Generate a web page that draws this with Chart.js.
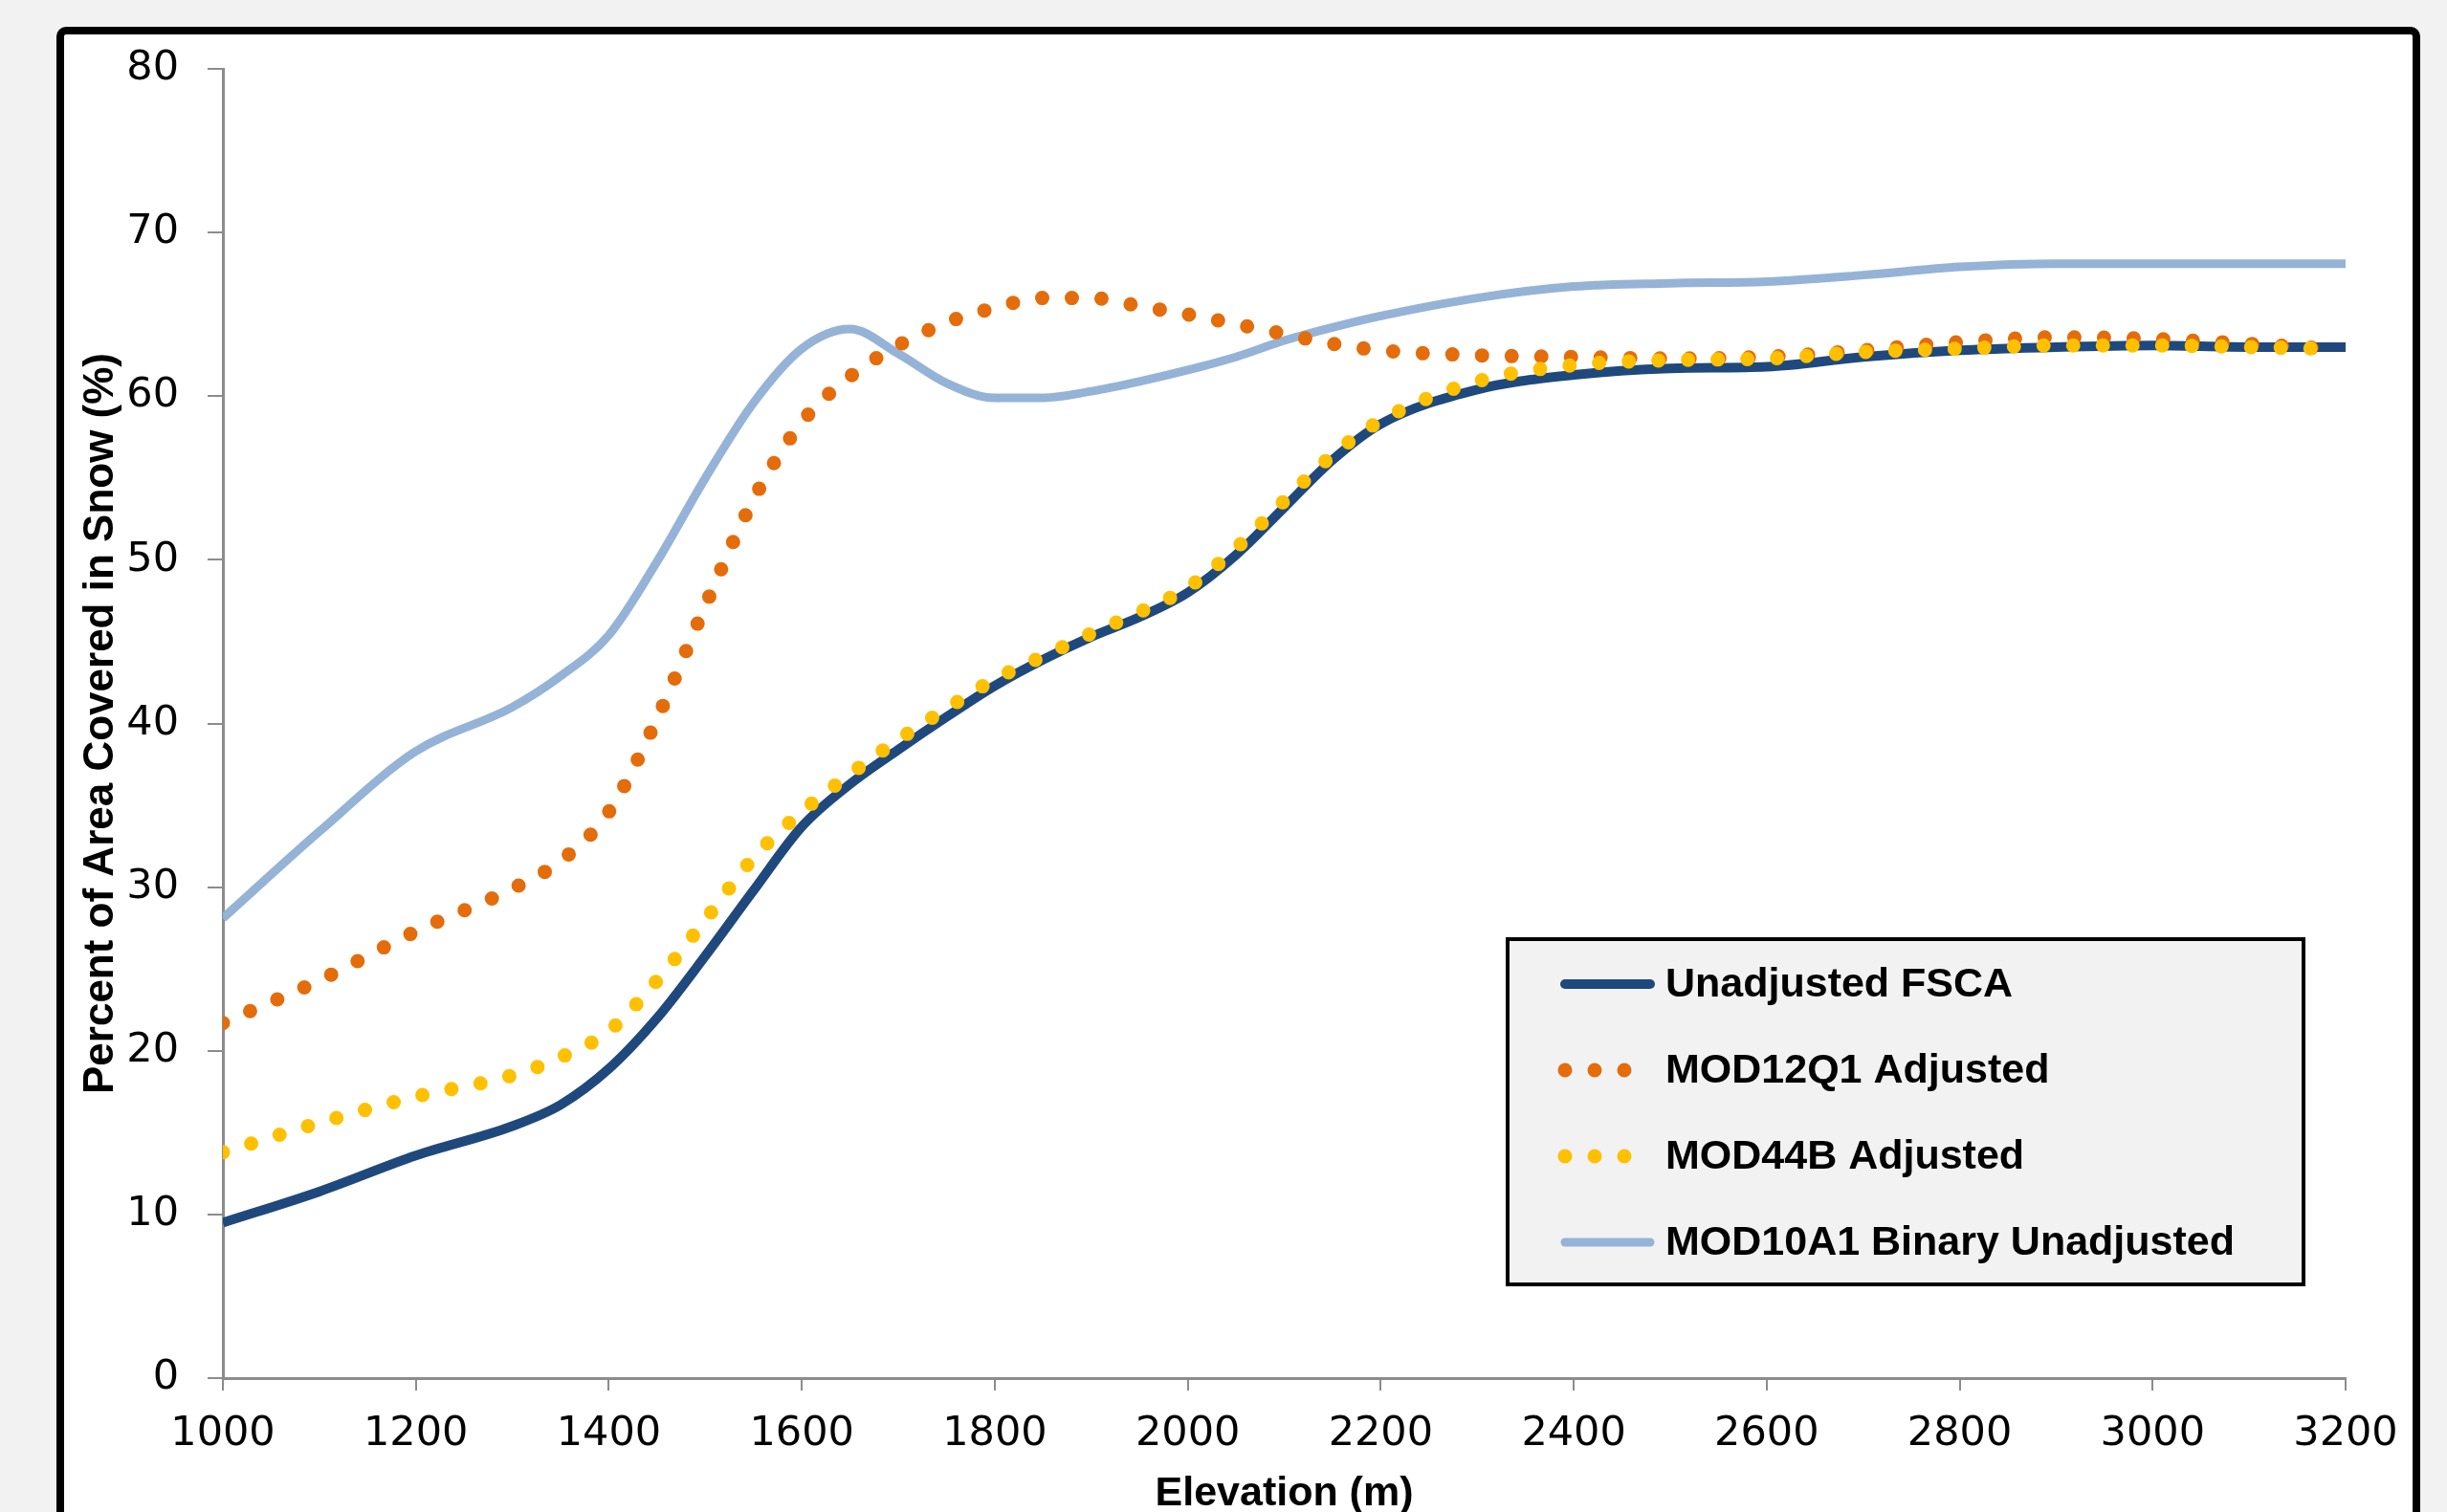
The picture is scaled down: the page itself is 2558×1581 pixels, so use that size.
<!DOCTYPE html>
<html>
<head>
<meta charset="utf-8">
<title>Percent of Area Covered in Snow by Elevation</title>
<script src="https://cdn.jsdelivr.net/npm/chart.js@4.4.0/dist/chart.umd.min.js"></script>
<style>
    html, body { margin: 0; padding: 0; background: #f2f2f2; overflow: hidden; }
    canvas { display: block; }
</style>
</head>
<body>
<canvas id="myChart" width="2558" height="1581"></canvas>
<script>
// DATA
const elevation = [1000, 1100, 1200, 1300, 1350, 1400, 1450, 1500, 1550, 1600, 1650, 1700, 1750, 1800, 1850, 1900, 1950, 2000, 2050, 2100, 2150, 2200, 2300, 2400, 2500, 2600, 2700, 2800, 2900, 3000, 3100, 3200];
// dotted series stop a little short of 3200
const elevationDotted = [1000, 1100, 1200, 1300, 1350, 1400, 1450, 1500, 1550, 1600, 1650, 1700, 1750, 1800, 1850, 1900, 1950, 2000, 2050, 2100, 2150, 2200, 2300, 2400, 2500, 2600, 2700, 2800, 2900, 3000, 3100, 3180];

const unadjustedFsca = [9.5, 11.4, 13.6, 15.4, 16.7, 18.9, 22.0, 25.8, 29.8, 33.7, 36.3, 38.4, 40.4, 42.3, 43.9, 45.3, 46.5, 48.0, 50.3, 53.2, 56.1, 58.3, 60.4, 61.3, 61.7, 61.8, 62.4, 62.8, 63.0, 63.1, 63.0, 63.0];
const mod12q1Adjusted = [21.7, 24.3, 27.3, 29.9, 31.6, 34.6, 40.3, 47.2, 53.7, 58.4, 61.2, 63.1, 64.5, 65.4, 66.0, 66.0, 65.5, 65.0, 64.4, 63.8, 63.2, 62.8, 62.5, 62.4, 62.3, 62.4, 62.8, 63.3, 63.6, 63.5, 63.2, 62.9];
const mod44bAdjusted = [13.8, 15.6, 17.2, 18.5, 19.6, 21.2, 24.3, 28.0, 31.8, 34.6, 36.9, 39.0, 40.9, 42.7, 44.1, 45.5, 46.8, 48.3, 50.7, 53.6, 56.4, 58.5, 60.9, 61.9, 62.2, 62.3, 62.7, 62.9, 63.1, 63.1, 63.0, 62.9];
const mod10a1Binary = [28.1, 33.4, 38.3, 41.0, 42.9, 45.4, 49.9, 55.0, 59.6, 62.9, 64.1, 62.6, 60.8, 59.9, 59.9, 60.3, 60.9, 61.6, 62.4, 63.4, 64.2, 64.9, 66.0, 66.7, 66.9, 67.0, 67.4, 67.9, 68.1, 68.1, 68.1, 68.1];

const xTicks = [1000, 1200, 1400, 1600, 1800, 2000, 2200, 2400, 2600, 2800, 3000, 3200];
const yTicks = [0, 10, 20, 30, 40, 50, 60, 70, 80];

const AXIS_GREY = "#8c8c8c";
const TICK_FONT = { family: "'DejaVu Sans', sans-serif", size: 43 };
const BOLD_FONT = "'Liberation Sans', Arial, sans-serif";

function toPoints(xs, ys) {
    return xs.map(function (x, i) {
        return { x: x, y: ys[i] };
    });
}

// FRAME ROUND THE WHOLE CHART
const framePlugin = {
    id: "frame",
    beforeDraw: function (chart) {
        const c = chart.ctx;
        c.save();
        c.fillStyle = "#f2f2f2";
        c.fillRect(0, 0, chart.width, chart.height);
        c.beginPath();
        c.roundRect(63, 32, 2463, 1620, 6);
        c.fillStyle = "#ffffff";
        c.fill();
        c.lineWidth = 8;
        c.strokeStyle = "#000000";
        c.stroke();
        c.restore();
    },
};
// FRAME ROUND THE WHOLE CHART

// LEGEND BOX INSIDE THE PLOT
const boxLegend = {
    id: "boxLegend",
    afterDraw: function (chart) {
        const c = chart.ctx;
        const box = { x: 1576, y: 982, w: 832, h: 361 };
        c.save();
        c.fillStyle = "#f2f2f2";
        c.fillRect(box.x, box.y, box.w, box.h);
        c.lineWidth = 4;
        c.strokeStyle = "#000000";
        c.strokeRect(box.x, box.y, box.w, box.h);

        chart.data.datasets.forEach(function (ds, i) {
            const rowY = 1029 + i * 90;
            c.beginPath();
            c.lineCap = "round";
            c.strokeStyle = ds.borderColor;
            if (ds.borderDash && ds.borderDash.length) {
                c.setLineDash(ds.borderDash);
                c.lineWidth = ds.borderWidth;
                c.moveTo(1636, rowY);
                c.lineTo(1636 + 2 * ds.borderDash[1] + 1, rowY);
            } else {
                c.setLineDash([]);
                c.lineWidth = ds.borderWidth;
                c.moveTo(1636, rowY);
                c.lineTo(1725, rowY);
            }
            c.stroke();

            c.setLineDash([]);
            c.fillStyle = "#000000";
            c.font = "bold 43px " + BOLD_FONT;
            c.textAlign = "left";
            c.textBaseline = "middle";
            c.fillText(ds.label, 1741, rowY + 1);
        });
        c.restore();
    },
};
// LEGEND BOX INSIDE THE PLOT

// VISUALIZATION
function visualization() {
    const ctx = document.getElementById("myChart").getContext("2d");
    new Chart(ctx, {
        type: "line",
        data: {
            datasets: [
                {
                    label: "Unadjusted FSCA",
                    data: toPoints(elevation, unadjustedFsca),
                    borderColor: "#1f497d",
                    borderWidth: 10,
                    order: 3,
                },
                {
                    label: "MOD12Q1 Adjusted",
                    data: toPoints(elevationDotted, mod12q1Adjusted),
                    borderColor: "#e46c0a",
                    borderWidth: 15,
                    borderDash: [0, 31],
                    borderCapStyle: "round",
                    order: 2,
                },
                {
                    label: "MOD44B Adjusted",
                    data: toPoints(elevationDotted, mod44bAdjusted),
                    borderColor: "#ffc000",
                    borderWidth: 15,
                    borderDash: [0, 31],
                    borderCapStyle: "round",
                    order: 1,
                },
                {
                    label: "MOD10A1 Binary Unadjusted",
                    data: toPoints(elevation, mod10a1Binary),
                    borderColor: "#95b3d7",
                    borderWidth: 9,
                    order: 4,
                },
            ],
        },
        options: {
            responsive: false,
            animation: false,
            devicePixelRatio: 1,
            layout: {
                padding: { left: 0, top: 72, right: 106, bottom: 0 },
            },
            elements: {
                point: { radius: 0 },
                line: { cubicInterpolationMode: "monotone", fill: false },
            },
            plugins: {
                legend: { display: false },
                tooltip: { enabled: false },
            },
            scales: {
                x: {
                    type: "linear",
                    min: 1000,
                    max: 3200,
                    afterBuildTicks: function (scale) {
                        scale.ticks = xTicks.map(function (v) {
                            return { value: v };
                        });
                    },
                    afterFit: function (scale) {
                        scale.height = 140;
                    },
                    border: { display: true, color: AXIS_GREY, width: 3 },
                    grid: {
                        drawOnChartArea: false,
                        drawTicks: true,
                        tickLength: 13,
                        color: AXIS_GREY,
                        lineWidth: 2,
                    },
                    ticks: {
                        color: "#000000",
                        font: TICK_FONT,
                        padding: 20,
                        maxRotation: 0,
                        autoSkip: false,
                        callback: function (value) {
                            return String(value);
                        },
                    },
                    title: {
                        display: true,
                        text: "Elevation (m)",
                        color: "#000000",
                        font: { family: BOLD_FONT, size: 43, weight: "bold", lineHeight: 0.9 },
                        padding: { top: 0, bottom: 0 },
                    },
                },
                y: {
                    min: 0,
                    max: 80,
                    afterBuildTicks: function (scale) {
                        scale.ticks = yTicks.map(function (v) {
                            return { value: v };
                        });
                    },
                    afterFit: function (scale) {
                        scale.width = 233;
                    },
                    border: { display: true, color: AXIS_GREY, width: 3 },
                    grid: {
                        drawOnChartArea: false,
                        drawTicks: true,
                        tickLength: 16,
                        color: AXIS_GREY,
                        lineWidth: 2,
                    },
                    ticks: {
                        color: "#000000",
                        font: TICK_FONT,
                        padding: 30,
                        autoSkip: false,
                    },
                    title: {
                        display: true,
                        text: "Percent of Area Covered in Snow (%)",
                        color: "#000000",
                        font: { family: BOLD_FONT, size: 44, weight: "bold" },
                        padding: { top: 79, bottom: 0 },
                    },
                },
            },
        },
        plugins: [framePlugin, boxLegend],
    });
}
// VISUALIZATION

visualization();
</script>
</body>
</html>
